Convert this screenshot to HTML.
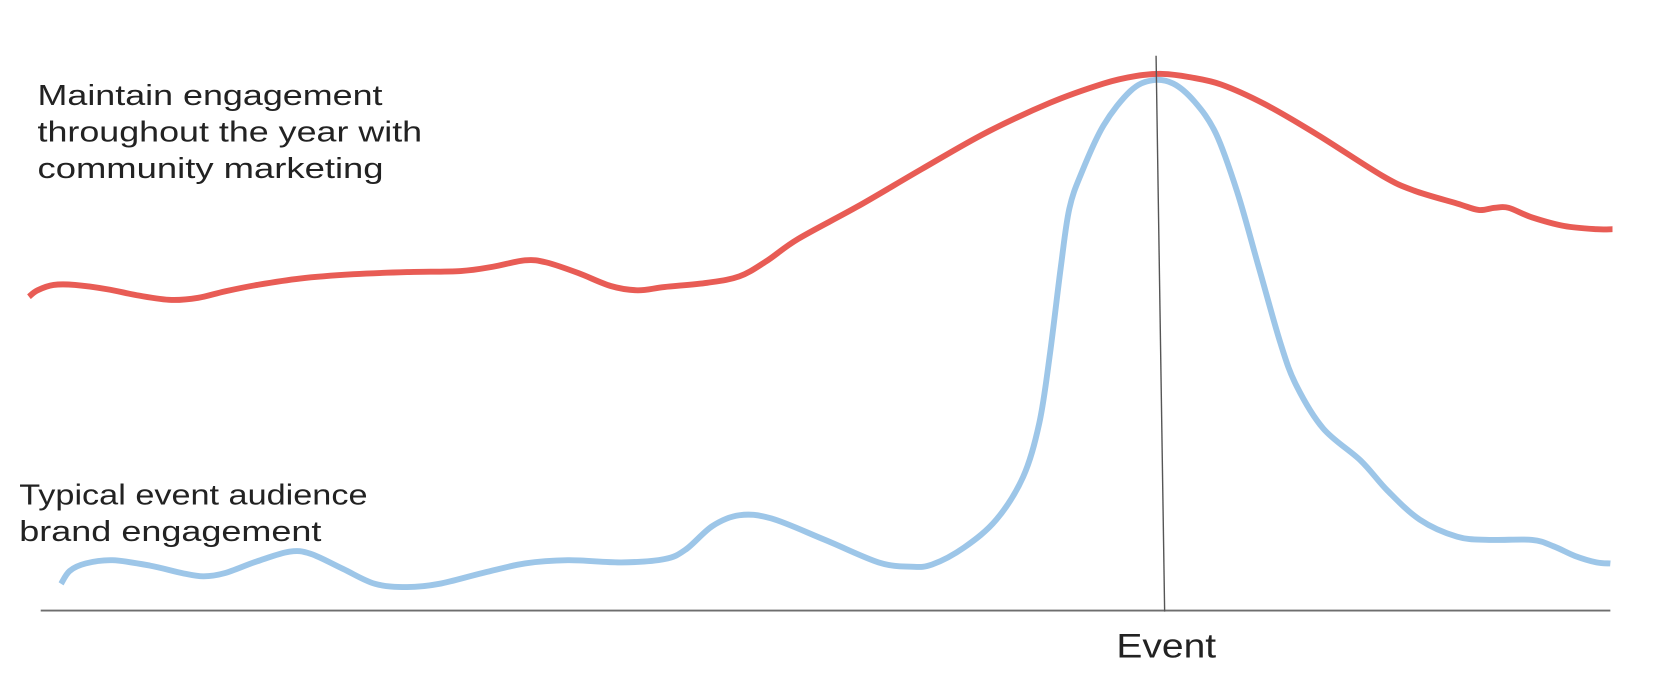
<!DOCTYPE html>
<html><head><meta charset="utf-8"><style>
html,body{margin:0;padding:0;background:#fff;width:1680px;height:692px;overflow:hidden}
svg{display:block}
text{font-family:"Liberation Sans",sans-serif;fill:#222;font-weight:normal}
</style></head><body>
<svg width="1680" height="692" viewBox="0 0 1568 646" preserveAspectRatio="none">
<rect width="1568" height="646" fill="#fff"/>
<text x="35" y="98" font-size="27" textLength="322" lengthAdjust="spacingAndGlyphs">Maintain engagement</text>
<text x="35" y="132" font-size="27" textLength="359" lengthAdjust="spacingAndGlyphs">throughout the year with</text>
<text x="35" y="166" font-size="27" textLength="323" lengthAdjust="spacingAndGlyphs">community marketing</text>
<text x="18" y="471" font-size="27" textLength="325" lengthAdjust="spacingAndGlyphs">Typical event audience</text>
<text x="18" y="505" font-size="27" textLength="282" lengthAdjust="spacingAndGlyphs">brand engagement</text>
<text x="1042" y="614" font-size="32" textLength="93" lengthAdjust="spacingAndGlyphs">Event</text>
<line x1="38" y1="570" x2="1503" y2="570" stroke="#6e6e6e" stroke-width="1.8"/>
<path id="red" fill="none" stroke="#e85c55" stroke-width="5.5" stroke-linejoin="round"/>
<path id="blue" fill="none" stroke="#9dc6e8" stroke-width="5.5" stroke-linejoin="round"/>
<line x1="1079" y1="52" x2="1087" y2="571" stroke="#555" stroke-width="1.3"/>
</svg>
<script>
function smooth(s){
  var p=s.trim().split(/\s+/).map(function(t){return t.split(',').map(Number);});
  var d='M'+p[0][0]+','+p[0][1];
  for(var i=0;i<p.length-1;i++){
    var p0=p[i-1]||p[i],p1=p[i],p2=p[i+1],p3=p[i+2]||p2;
    var c1x=p1[0]+(p2[0]-p0[0])/6,c1y=p1[1]+(p2[1]-p0[1])/6;
    var c2x=p2[0]-(p3[0]-p1[0])/6,c2y=p2[1]-(p3[1]-p1[1])/6;
    d+=' C'+c1x.toFixed(1)+','+c1y.toFixed(1)+' '+c2x.toFixed(1)+','+c2y.toFixed(1)+' '+p2[0]+','+p2[1];
  }
  return d;
}
document.getElementById('red').setAttribute('d',smooth("27,277 35,271 50,266 70,266 100,270 130,276 160,280 185,278 210,272 240,266 280,260 330,256 380,254 430,253 460,249 490,243 510,245 540,255 570,267 595,271 620,268 660,264 690,258 715,244 745,223 800,193 860,158 920,124 980,96 1030,78 1060,71 1085,69 1110,72 1140,79 1180,97 1230,126 1290,164 1320,178 1360,190 1380,196 1395,194 1408,194 1430,203 1460,211 1490,214 1505,214"));
document.getElementById('blue').setAttribute('d',smooth("57,545 65,533 80,526 105,523 140,528 170,535 190,538 210,535 240,524 270,515 290,517 320,531 350,545 380,548 410,545 450,535 490,526 530,523 580,525 620,522 640,513 665,491 690,481 720,484 770,504 820,525 850,529 870,527 900,511 930,485 955,445 970,395 980,330 990,250 998,195 1010,160 1030,117 1055,85 1075,75 1095,78 1115,95 1135,125 1155,180 1175,250 1195,320 1210,360 1235,400 1270,430 1295,458 1325,485 1360,501 1390,504 1430,504 1450,510 1470,519 1490,525 1503,526"));
</script>
</body></html>
